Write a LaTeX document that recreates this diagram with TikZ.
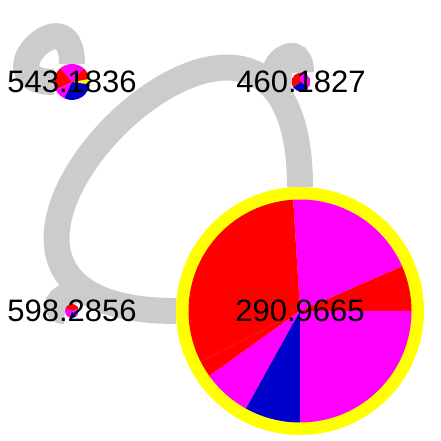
\documentclass[tikz,border=0pt]{standalone}
\usepackage{fontspec}
\setmainfont{Liberation Sans}
\usetikzlibrary{backgrounds}
\definecolor{PieRed}{HTML}{FF0000}
\definecolor{PieMag}{HTML}{FF00FF}
\definecolor{PieBlue}{HTML}{0000CD}
\definecolor{Ring}{HTML}{FFFF00}
\definecolor{Band}{HTML}{CCCCCC}
\tikzset{
  loopband/.style={draw=Band,line width=26pt},
  pienode/.style={circle,inner sep=0pt,outer sep=0pt,minimum size=#1},
  valtext/.style={font=\fontsize{31}{33}\selectfont,text=black,inner sep=0pt}
}
\newcommand{\pieslices}[2]{%
  \foreach \pa/\pb/\pc in {#2}
    \fill[\pc] (path picture bounding box.center) -- ++(\pa:#1) arc[start angle=\pa,end angle=\pb,radius=#1] -- cycle;}

\begin{document}
\begin{tikzpicture}[x=1pt,y=1pt]
  \useasboundingbox (0,0) rectangle (440,441);
  \node[pienode=248pt,fill=Ring,path picture={\pieslices{111.5pt}{0/23.7/PieRed,23.7/93.5/PieMag,93.5/207/PieRed,207/215.6/PieRed,215.6/241/PieMag,241/270/PieBlue,270/360/PieMag}},label={[valtext]center:290.9665}] (big) at (300,130) {};
  \node[pienode=36pt,path picture={\pieslices{18pt}{-8/10/Ring,10/50/PieRed,50/130/PieMag,130/205/PieRed,205/245/PieMag,245/352/PieBlue}},label={[valtext]center:543.1836}] (n543) at (72,359) {};
  \node[pienode=19pt,path picture={\pieslices{9.5pt}{-40/100/PieMag,100/215/PieRed,215/320/PieBlue}},label={[valtext]center:460.1827}] (n460) at (301,359) {};
  \node[pienode=14pt,path picture={\pieslices{7pt}{20/160/PieRed,160/250/PieMag,250/310/PieBlue,310/380/PieMag}},label={[valtext]center:598.2856}] (n598) at (72,130) {};
  \begin{scope}[on background layer]
    \draw[loopband] (big) to[out=90,in=180,looseness=4.78] (big);
    \draw[loopband] (n543) to[out=90,in=180,looseness=7.2] (n543);
    \draw[loopband] (n460) to[out=90,in=180,looseness=8] (n460);
    \draw[loopband] (n598) to[out=90,in=180,looseness=5.2] (n598);
  \end{scope}
\end{tikzpicture}
\end{document}
